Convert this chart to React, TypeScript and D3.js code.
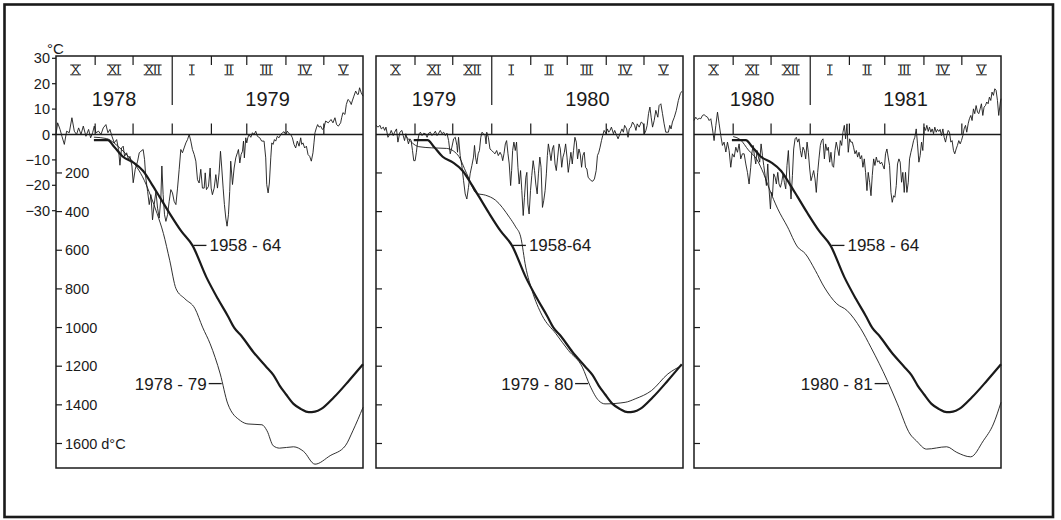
import React, { useEffect, useRef } from "react";
import * as d3 from "d3";

type Pt = [number, number];

const INK = "#1a1a1a";
const FONT = "'Liberation Sans', Arial, sans-serif";

const monthLabels = ["X", "XI", "XII", "I", "II", "III", "IV", "V"];
const monthDays7879 = [31, 30, 31, 31, 28, 31, 30, 31];
const monthDays7980 = [31, 30, 31, 31, 29, 31, 30, 31];
const monthDays8081 = [31, 30, 31, 31, 28, 31, 30, 31];
const years7879 = ["1978", "1979"];
const years7980 = ["1979", "1980"];
const years8081 = ["1980", "1981"];
const seasonLabels = ["1978 - 79", "1979 - 80", "1980 - 81"];
const normalLabels = ["1958 - 64", "1958-64", "1958 - 64"];
const tempTicks = [30, 20, 10, 0, -10, -20, -30];
const ddTicks = [200, 400, 600, 800, 1000, 1200, 1400, 1600];

// cumulative degree-days, mean 1958-64 (day of season, d°C)
const ddNormal: Pt[] = [[30,30],[41,30],[46,64],[53,116],[61,145],[69,190],[76,260],[82,324],[90,410],[99,500],[108,575],[119,739],[128,850],[136,940],[141,1000],[147,1045],[156,1125],[166,1200],[172,1245],[177,1300],[182,1345],[188,1395],[194,1422],[200,1438],[205,1435],[210,1421],[220,1361],[232,1274],[243,1190]];

const dd7879: Pt[] = [[30,15],[40,22],[46,45],[52,80],[58,120],[64,170],[70,240],[75,320],[80,410],[85,513],[90,652],[95,799],[102,851],[110,902],[116,998],[122,1084],[130,1240],[136,1395],[146,1482],[152,1499],[163,1503],[167,1534],[172,1612],[177,1624],[188,1617],[196,1641],[205,1707],[217,1663],[229,1612],[235,1534],[243,1413]];

const dd7980: Pt[] = [[24,12],[34,64],[44,70],[56,73],[65,107],[72,202],[80,306],[87,315],[95,341],[106,429],[111,479],[115,531],[119,687],[124,808],[132,937],[143,1032],[153,1119],[164,1205],[170,1300],[177,1378],[182,1395],[198,1387],[206,1369],[219,1326],[232,1240],[243,1197]];

const dd8081: Pt[] = [[31,12],[37,30],[43,81],[50,133],[55,202],[60,289],[66,382],[74,479],[82,583],[88,617],[96,704],[103,790],[113,877],[121,911],[132,1006],[140,1102],[153,1274],[161,1395],[171,1551],[176,1586],[184,1629],[200,1617],[208,1646],[219,1669],[229,1586],[237,1499],[243,1387]];

// daily air temperature (day of season, °C)
const temp7879: Pt[] = [[0,0],[1.3,4.6],[3.2,2.0],[4.7,-0.7],[6.6,-3.9],[8.4,1.3],[10.5,0.7],[12.6,6.6],[14.5,1.3],[16.3,0],[17.9,2.6],[19.8,0],[21.6,3.3],[23.7,-0.7],[25.8,2.0],[27.4,-1.3],[29.0,0.7],[30.3,3.3],[31.6,0.7],[33.7,1.3],[35.6,0],[37.4,2.6],[39.5,3.9],[41.1,0.7],[42.7,2.0],[44.3,-0.7],[46.1,-3.3],[48.0,-2.0],[49.5,-5.9],[50.6,-12.1],[51.9,-5.3],[53.2,-4.6],[54.3,-8.6],[55.9,-7.2],[57.4,-9.9],[58.5,-8.6],[60.1,-12.4],[61.1,-19.0],[62.7,-13.7],[64.6,-10.5],[65.9,-7.2],[67.2,-6.6],[69.0,-5.9],[70.1,-9.9],[71.1,-17.1],[72.5,-22.4],[73.8,-27.6],[75.1,-23.7],[76.4,-33.6],[77.7,-27.6],[79.1,-22.4],[80.4,-29.0],[81.7,-32.9],[83.0,-25.0],[83.8,-12.4],[84.8,-23.7],[85.9,-31.6],[87.0,-34.2],[88.3,-31.6],[89.6,-26.3],[90.9,-21.7],[92.2,-23.0],[93.5,-26.3],[94.9,-27.6],[96.2,-21.1],[97.5,-13.7],[98.8,-5.9],[100.1,-7.2],[101.4,-5.3],[102.8,-3.3],[104.1,-2.0],[105.4,0],[106.7,-2.6],[108.0,-5.9],[109.4,-7.9],[110.7,-10.5],[112.0,-17.8],[113.3,-19.1],[114.6,-13.7],[115.9,-21.1],[117.3,-21.1],[118.1,-15.1],[119.1,-21.7],[120.7,-20.4],[122.0,-13.2],[122.8,-21.1],[123.8,-23.7],[125.2,-21.1],[126.5,-15.8],[127.8,-21.1],[129.1,-15.1],[130.2,-6.6],[131.2,-13.2],[132.3,-21.1],[133.3,-27.6],[134.4,-32.9],[135.4,-36.1],[136.5,-31.6],[137.5,-22.4],[138.3,-10.5],[139.7,-19.7],[141.0,-13.2],[142.3,-9.2],[143.6,-7.2],[144.4,-5.9],[145.5,-11.2],[146.5,-7.9],[147.6,-6.6],[148.4,-2.6],[149.1,-9.2],[150.2,-1.3],[151.0,-3.3],[151.8,-1.3],[152.8,0],[154.2,-1.1],[155.5,0.7],[156.8,0],[158.1,1.3],[159.4,-0.7],[161.3,-1.3],[162.8,-2.6],[164.7,-2.6],[166.0,-9.2],[166.8,-19.7],[167.9,-23.0],[168.9,-19.1],[170.0,-9.2],[170.8,-3.3],[171.8,-3.9],[172.9,-2.0],[173.9,-2.6],[175.2,-0.7],[176.5,-1.3],[177.9,0],[179.2,0.7],[180.5,1.1],[181.8,0],[183.1,1.3],[184.5,0.3],[185.8,0],[187.1,-1.3],[188.4,-3.9],[189.7,-5.3],[191.0,-2.6],[192.4,-4.6],[193.7,-1.3],[194.5,-3.9],[195.5,-3.3],[196.8,-5.3],[198.2,-4.6],[199.5,-7.9],[200.8,-8.6],[202.1,-10.5],[203.4,-7.2],[204.2,-3.3],[205.0,0.7],[206.1,2.6],[207.1,3.9],[208.2,2.9],[209.5,3.3],[210.8,2.0],[212.1,2.6],[213.4,5.3],[215.5,4.6],[217.7,5.9],[219.2,4.6],[220.8,6.6],[222.1,3.9],[223.5,3.3],[225.3,4.6],[226.1,6.6],[227.1,8.6],[228.7,7.9],[229.8,11.8],[231.1,13.8],[232.4,13.2],[233.7,11.8],[234.5,13.2],[235.8,15.1],[237.2,17.1],[238.5,15.8],[239.3,15.8],[240.3,18.4],[241.6,16.4],[243.0,15.1]];

const temp7980: Pt[] = [[0,3.6],[1.6,2.9],[3.2,3.6],[4.2,2.2],[5.8,2.9],[6.9,1.6],[7.9,2.9],[9.5,-1.1],[11.1,0.3],[12.1,1.6],[13.7,-0.4],[14.8,0.9],[16.3,2.2],[17.4,-3.0],[19.0,0.9],[20.6,1.6],[21.6,-0.4],[22.7,-2.4],[23.7,0.3],[24.8,-1.7],[25.8,-3.7],[26.9,-1.7],[27.9,-2.4],[29.0,-6.3],[30.0,-10.3],[31.1,-10.3],[32.1,-7.0],[33.2,-2.4],[34.3,0.3],[35.3,0.9],[36.6,-0.4],[37.9,0.5],[39.3,0.3],[40.6,-1.1],[41.9,0.5],[43.2,0.9],[44.5,-0.4],[45.8,0.3],[47.2,1.3],[48.5,-0.4],[49.8,0.5],[51.1,1.6],[52.4,0.3],[53.8,0.9],[55.1,-0.4],[56.4,0.5],[57.7,-2.4],[59.0,-7.6],[60.3,-5.0],[61.7,-1.7],[63.0,-1.1],[64.3,-4.3],[64.8,-7.0],[65.6,-1.1],[66.9,-8.3],[68.2,-12.2],[69.6,-18.2],[70.9,-23.4],[72.2,-25.4],[73.5,-20.8],[74.8,-15.5],[76.2,-12.2],[77.5,-8.9],[78.3,-4.3],[79.1,-8.9],[80.1,-11.6],[81.2,-7.6],[82.2,-6.3],[83.3,-1.1],[84.3,0.9],[85.4,0.3],[86.7,-0.4],[87.5,-3.7],[88.0,0.9],[89.3,-1.1],[90.6,-5.7],[92.0,-6.3],[93.3,-7.0],[94.6,-7.6],[95.9,-6.3],[97.2,-8.3],[98.6,-7.0],[99.9,-8.3],[100.7,-10.3],[101.7,-7.6],[102.8,-3.7],[103.8,-2.4],[104.9,-7.6],[105.9,-11.6],[107.0,-20.1],[107.8,-14.2],[108.6,-6.3],[109.6,-3.0],[110.7,-6.3],[111.7,-3.0],[112.8,-12.9],[113.8,-19.5],[114.9,-14.2],[115.9,-22.1],[117.0,-31.9],[118.0,-24.7],[119.1,-16.8],[119.9,-14.9],[120.7,-27.4],[121.7,-31.3],[122.8,-22.1],[123.8,-16.2],[124.9,-10.3],[126.0,-14.2],[127.0,-19.5],[128.1,-23.4],[129.1,-15.5],[130.2,-8.9],[131.2,-12.9],[132.3,-28.7],[133.3,-26.1],[134.4,-22.1],[135.4,-15.5],[136.2,-8.3],[137.0,-3.7],[138.1,-7.0],[139.1,-10.3],[140.2,-5.7],[141.2,-4.3],[142.3,-11.6],[143.3,-14.2],[144.4,-8.9],[145.5,-3.7],[146.5,-5.7],[147.6,-12.9],[148.6,-8.9],[149.7,-7.0],[150.7,-3.7],[151.8,-8.9],[152.8,-14.9],[153.9,-10.9],[154.9,-7.0],[156.0,-11.6],[157.0,-6.3],[158.1,-1.1],[159.2,-3.0],[160.2,-9.6],[161.3,-5.7],[162.3,-7.6],[163.4,-12.9],[164.4,-8.3],[165.5,-7.0],[166.5,-12.9],[167.6,-13.6],[168.6,-16.8],[169.7,-17.5],[171.0,-18.2],[172.3,-18.4],[173.6,-17.5],[175.0,-14.2],[176.0,-8.3],[177.1,-7.0],[178.1,-5.0],[179.2,-2.4],[180.2,-0.4],[181.3,1.6],[182.9,0.3],[183.9,2.2],[185.0,0.9],[186.0,1.6],[187.1,2.9],[188.7,0.3],[189.7,1.6],[191.3,-0.4],[192.4,-1.7],[193.9,0.3],[195.5,2.2],[196.6,0.9],[197.6,3.6],[199.2,2.2],[200.3,-1.1],[201.3,2.2],[202.6,2.9],[203.9,4.9],[205.5,3.6],[206.6,1.6],[207.6,4.2],[209.2,2.9],[210.8,4.9],[212.4,4.2],[213.4,0.3],[214.5,1.6],[215.5,3.6],[216.6,8.2],[217.7,10.8],[218.7,6.8],[219.8,2.9],[221.1,5.5],[222.4,9.5],[224.0,6.8],[225.0,11.4],[226.4,12.1],[227.7,8.2],[229.0,4.2],[230.3,0.9],[231.4,0.9],[232.4,0.9],[233.5,3.6],[234.5,2.2],[235.6,4.9],[237.1,6.8],[238.7,9.5],[240.3,13.4],[241.9,16.1],[243,17]];

const temp8081: Pt[] = [[0,5.5],[1.4,6.8],[2.8,5.9],[4.1,6.4],[5.4,6.2],[6.7,7.5],[8.0,7.8],[9.4,7.2],[10.7,6.8],[12.0,5.5],[13.3,6.2],[14.6,2.2],[15.9,-2.4],[17.3,3.6],[18.6,8.8],[19.9,4.2],[21.2,-0.4],[22.5,-4.3],[23.8,-3.0],[25.2,-6.9],[26.5,-3.0],[27.8,-6.3],[29.1,-12.9],[30.4,-7.6],[31.8,-8.9],[33.1,-5.0],[34.4,-7.0],[35.7,-3.7],[37.0,-9.6],[38.3,-7.6],[39.7,-7.6],[41.0,-11.6],[42.3,-14.9],[43.6,-19.5],[44.9,-12.9],[45.7,-7.6],[46.8,-4.3],[47.8,-8.3],[48.9,-11.6],[49.9,-6.3],[51.0,-8.9],[52.0,-10.9],[53.1,-3.7],[54.2,-8.3],[55.2,-12.2],[56.3,-16.2],[57.3,-20.1],[58.4,-11.6],[59.4,-21.4],[60.5,-29.3],[61.3,-22.8],[62.1,-24.1],[63.1,-15.5],[64.2,-16.8],[65.2,-19.5],[66.3,-14.9],[67.3,-19.5],[68.4,-20.8],[69.4,-18.8],[70.5,-15.5],[71.5,-18.8],[72.6,-21.4],[73.6,-12.2],[74.7,-6.3],[75.8,-17.5],[76.8,-25.4],[77.9,-16.2],[78.9,-5.7],[80.0,-1.7],[81.0,-1.1],[82.1,-3.0],[83.1,-1.7],[84.2,-6.3],[85.2,-8.9],[86.3,-5.0],[87.4,-6.3],[88.4,-9.6],[89.5,-3.0],[90.5,-7.0],[91.6,-13.6],[92.6,-18.2],[93.7,-16.2],[94.7,-14.2],[95.8,-17.5],[96.8,-22.8],[97.9,-14.9],[98.9,-9.6],[100.0,-4.3],[101.0,-2.4],[102.1,-1.7],[103.2,-9.6],[104.2,-3.7],[105.3,-6.3],[106.3,-5.0],[107.4,-10.9],[108.4,-7.0],[109.5,-12.2],[110.5,-12.9],[111.6,-6.3],[112.6,-3.0],[113.7,-5.7],[114.8,-8.3],[115.8,-2.4],[116.9,-4.3],[117.9,0.9],[119.0,3.6],[120.0,-1.7],[121.1,4.2],[122.1,-7.0],[123.2,-1.7],[124.2,-3.0],[125.3,-3.0],[126.3,-5.0],[127.4,-7.6],[128.5,-6.3],[129.5,-8.9],[130.6,-7.0],[131.6,-9.6],[132.7,-8.3],[133.7,-12.9],[134.8,-9.6],[135.8,-14.9],[136.9,-22.1],[137.9,-14.9],[139.0,-18.8],[140.1,-24.1],[141.1,-16.2],[142.2,-9.6],[143.2,-12.2],[144.3,-8.9],[145.3,-10.9],[146.4,-10.3],[147.4,-11.6],[148.5,-10.9],[149.5,-12.2],[150.6,-13.6],[151.6,-7.6],[152.7,-5.7],[153.7,-8.9],[154.8,-12.2],[155.9,-22.8],[156.9,-26.7],[158.0,-24.1],[159.0,-24.7],[160.1,-20.1],[161.1,-11.6],[162.2,-9.6],[163.2,-10.9],[164.3,-18.8],[165.3,-14.9],[166.4,-22.8],[167.4,-14.9],[168.5,-22.8],[169.6,-18.8],[170.6,-9.6],[171.7,-7.0],[172.7,-5.0],[173.8,-2.4],[174.8,-1.1],[175.9,2.2],[176.9,-3.7],[178.0,-10.9],[179.0,-8.3],[180.1,-3.0],[181.1,-6.3],[182.2,2.9],[183.3,1.6],[184.3,3.6],[185.4,1.2],[186.4,2.9],[187.5,0.9],[188.5,2.2],[189.6,0.3],[190.6,2.9],[191.7,0.9],[192.7,2.0],[193.8,1.2],[194.8,2.0],[195.9,-0.4],[197.0,2.2],[198.0,-1.1],[199.1,-3.0],[200.1,-0.4],[201.2,1.6],[202.2,0.9],[203.3,-3.0],[204.3,-2.4],[205.4,-6.3],[206.4,-7.6],[207.5,-5.7],[208.5,-4.3],[209.6,-2.4],[210.7,-3.7],[211.7,-2.4],[212.8,-0.4],[213.8,2.2],[214.9,3.6],[215.9,0.9],[217.0,4.2],[218.0,6.2],[219.1,7.5],[220.1,5.5],[221.2,10.1],[222.2,8.2],[223.3,11.4],[224.4,8.8],[225.4,8.2],[226.5,10.1],[227.5,12.1],[228.6,7.5],[229.6,10.8],[230.7,11.4],[231.7,12.8],[232.8,12.1],[233.8,14.7],[234.9,13.4],[235.9,16.7],[237.0,15.4],[238.1,18.0],[239.1,17.4],[240.2,13.4],[241.2,7.5],[242.5,12.8],[243,14.1]];

const seasons = [
  { monthDays: monthDays7879, years: years7879, temps: temp7879, dd: dd7879 },
  { monthDays: monthDays7980, years: years7980, temps: temp7980, dd: dd7980 },
  { monthDays: monthDays8081, years: years8081, temps: temp8081, dd: dd8081 },
];

function dayAtValue(pts: Pt[], v: number): number {
  for (let k = 0; k < pts.length - 1; k++) {
    const a = pts[k], b = pts[k + 1];
    if ((a[1] - v) * (b[1] - v) <= 0 && a[1] !== b[1]) {
      return a[0] + ((v - a[1]) / (b[1] - a[1])) * (b[0] - a[0]);
    }
  }
  return pts[0][0];
}

export default function App() {
  const ref = useRef<SVGSVGElement>(null);

  useEffect(() => {
    const svg = d3.select(ref.current as SVGSVGElement);
    svg.selectAll("*").remove();

    const top = 56, bottom = 468, panelW = 307;
    const panelX = [56, 376, 694];
    const yT = d3.scaleLinear().domain([-30, 30]).range([210.7, 58.3]);
    const yD = d3.scaleLinear().domain([0, 1600]).range([134.3, 443.5]);
    const y0 = yT(0);

    svg.append("rect").attr("x", 4.5).attr("y", 4.5).attr("width", 1048.5).attr("height", 512.5)
      .attr("fill", "none").attr("stroke", INK).attr("stroke-width", 2.6);

    const line = (g: any, x1: number, y1: number, x2: number, y2: number, w = 1.3) =>
      g.append("line").attr("x1", x1).attr("y1", y1).attr("x2", x2).attr("y2", y2)
        .attr("stroke", INK).attr("stroke-width", w);

    seasons.forEach((p, i) => {
      const x0 = panelX[i];
      const total = d3.sum(p.monthDays);
      const x = d3.scaleLinear().domain([0, total]).range([x0, x0 + panelW]);
      const g = svg.append("g");
      const cum = Array.from(d3.cumsum(p.monthDays));

      g.append("rect").attr("x", x0).attr("y", top).attr("width", panelW).attr("height", bottom - top)
        .attr("fill", "none").attr("stroke", INK).attr("stroke-width", 1.5);
      line(g, i === 0 ? x0 - 4 : x0, y0, x0 + panelW, y0, 1.5);

      cum.slice(0, -1).forEach((c, k) => {
        const xx = x(c);
        if (k === 2) line(g, xx, top, xx, 105, 1.2);
        else line(g, xx, top, xx, top + 9, 1.2);
        line(g, xx, y0, xx, y0 - 11, 1.2);
      });

      monthLabels.forEach((m, k) => {
        const start = k === 0 ? 0 : cum[k - 1];
        const xc = x((start + cum[k]) / 2);
        const t = g.append("text").attr("x", xc).attr("y", 74.3).attr("text-anchor", "middle")
          .attr("font-family", FONT).attr("font-size", 13).attr("fill", INK).text(m);
        const w = (t.node() as SVGTextElement).getComputedTextLength() + 2;
        line(g, xc - w / 2, 65, xc + w / 2, 65, 1);
        line(g, xc - w / 2, 74.8, xc + w / 2, 74.8, 1);
      });

      g.append("text").attr("x", x(cum[2] / 2)).attr("y", 106).attr("text-anchor", "middle")
        .attr("font-family", FONT).attr("font-size", 20).attr("fill", INK).text(p.years[0]);
      g.append("text").attr("x", x((cum[2] + total) / 2)).attr("y", 106).attr("text-anchor", "middle")
        .attr("font-family", FONT).attr("font-size", 20).attr("fill", INK).text(p.years[1]);

      ddTicks.forEach((v) => line(g, x0, yD(v), x0 + 6, yD(v), 1.2));

      const tLine = d3.line<Pt>().x((d) => x(d[0])).y((d) => yT(d[1]));
      g.append("path").attr("d", tLine(p.temps) as string).attr("fill", "none")
        .attr("stroke", INK).attr("stroke-width", 0.9).attr("stroke-linejoin", "round");

      const dLine = d3.line<Pt>().x((d) => x(d[0])).y((d) => yD(d[1])).curve(d3.curveMonotoneX);
      g.append("path").attr("d", dLine(p.dd) as string).attr("fill", "none")
        .attr("stroke", INK).attr("stroke-width", 0.9);
      g.append("path").attr("d", dLine(ddNormal) as string).attr("fill", "none")
        .attr("stroke", INK).attr("stroke-width", 2.2);

      // label for 1958-64
      const nx = x(dayAtValue(ddNormal, 575));
      const ny = yD(575);
      line(g, nx + 1, ny, nx + 14, ny, 1.3);
      g.append("text").attr("x", nx + 17).attr("y", ny + 6).attr("font-family", FONT)
        .attr("font-size", 17).attr("fill", INK).text(normalLabels[i]);

      // label for season
      const sx = x(dayAtValue(p.dd, 1290));
      const sy = yD(1290);
      line(g, sx - 1, sy, sx - 14, sy, 1.3);
      g.append("text").attr("x", sx - 16).attr("y", sy + 6).attr("text-anchor", "end").attr("font-family", FONT)
        .attr("font-size", 17).attr("fill", INK).text(seasonLabels[i]);
    });

    // left axis labels (first panel)
    const ax = svg.append("g");
    tempTicks.forEach((v) => {
      if (v !== 0) line(ax, 52, yT(v), 56, yT(v), 1.2);
      ax.append("text").attr("x", 50).attr("y", yT(v) + 5).attr("text-anchor", "end")
        .attr("font-family", FONT).attr("font-size", 14.5).attr("fill", INK)
        .text(v < 0 ? "\u2212" + Math.abs(v) : String(v));
    });
    ax.append("text").attr("x", 47).attr("y", 54).attr("font-family", FONT).attr("font-size", 15)
      .attr("fill", INK).text("°C");
    ddTicks.forEach((v) => {
      ax.append("text").attr("x", 65).attr("y", yD(v) + 5).attr("font-family", FONT).attr("font-size", 14.5)
        .attr("fill", INK).text(v === 1600 ? "1600 d°C" : String(v));
    });
  }, []);

  return (
    <svg ref={ref} width={1061} height={520}
      style={{ position: "absolute", left: 0, top: 0, background: "#fff" }} />
  );
}
